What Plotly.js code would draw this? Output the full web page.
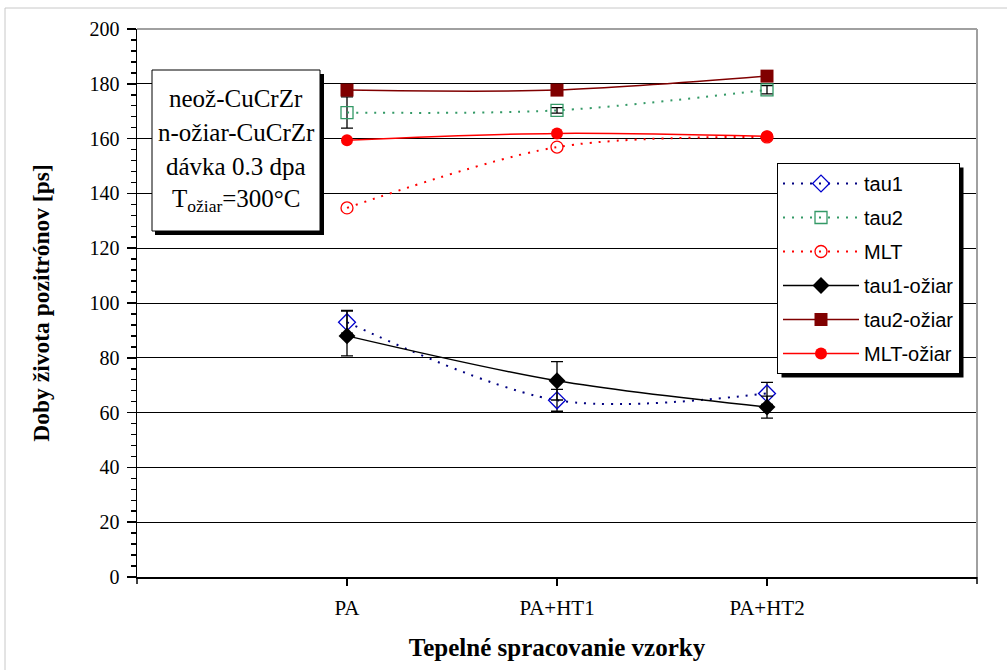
<!DOCTYPE html>
<html>
<head>
<meta charset="utf-8">
<script src="https://cdn.plot.ly/plotly-3.0.1.min.js"></script>
<style>
html,body{margin:0;padding:0;background:#fff;}
#chart{width:1007px;height:670px;}
</style>
</head>
<body>
<div id="chart"></div>
<script>
// ---- data ----
const categories = ["PA", "PA+HT1", "PA+HT2"];
const tau1 = [93.0, 64.5, 67.0];
const tau1Err = [4.0, 4.0, 4.0];
const tau2 = [169.5, 170.3, 177.8];
const tau2Err = [5.7, 1.0, 1.5];
const mlt = [134.7, 156.9, 160.6];
const tau1Oz = [88.0, 71.6, 62.0];
const tau1OzErrPlus = [9.3, 7.0, 4.0];
const tau1OzErrMinus = [7.3, 7.0, 4.0];
const tau2Oz = [177.7, 177.7, 182.8];
const mltOz = [159.4, 161.9, 160.8];
const seriesNames = ["tau1", "tau2", "MLT", "tau1-ožiar", "tau2-ožiar", "MLT-ožiar"];
const boxLines = ["neož-CuCrZr", "n-ožiar-CuCrZr", "dávka 0.3 dpa", "T<sub>ožiar</sub>=300°C"];
const yTicks = [0, 20, 40, 60, 80, 100, 120, 140, 160, 180, 200];

// ---- layout helpers ----
const W = 1007, H = 670;
const M = {l: 137, r: 30, t: 29, b: 93};
const PW = W - M.l - M.r, PH = H - M.t - M.b;
const px = x => (x - M.l) / PW;
const py = y => (M.t + PH - y) / PH;

const xIdx = categories.map((c, i) => i + 1);
const dotted = "2px,7px";

function errY(arr, arrMinus) {
  const e = {type: "data", array: arr, visible: true, color: "#000", thickness: 1.3, width: 6};
  if (arrMinus) { e.symmetric = false; e.arrayminus = arrMinus; }
  return e;
}

const traces = [
  {name: seriesNames[0], x: xIdx, y: tau1, error_y: errY(tau1Err),
   mode: "lines+markers", line: {color: "#000080", width: 2, dash: dotted, shape: "spline", smoothing: 0.9},
   marker: {symbol: "diamond-open", size: 13, color: "#0000cc", line: {width: 1.3}}},
  {name: seriesNames[1], x: xIdx, y: tau2, error_y: errY(tau2Err),
   mode: "lines+markers", line: {color: "#339966", width: 2, dash: dotted, shape: "spline", smoothing: 0.9},
   marker: {symbol: "square-open", size: 12, color: "#339966", line: {width: 1.3}}},
  {name: seriesNames[2], x: xIdx, y: mlt,
   mode: "lines+markers", line: {color: "#ff0000", width: 2, dash: dotted, shape: "spline", smoothing: 0.9},
   marker: {symbol: "circle-open", size: 12, color: "#ff0000", line: {width: 1.3}}},
  {name: seriesNames[3], x: xIdx, y: tau1Oz, error_y: errY(tau1OzErrPlus, tau1OzErrMinus),
   mode: "lines+markers", line: {color: "#000000", width: 1.5, shape: "spline", smoothing: 0.9},
   marker: {symbol: "diamond", size: 13, color: "#000000"}},
  {name: seriesNames[4], x: xIdx, y: tau2Oz,
   mode: "lines+markers", line: {color: "#800000", width: 1.5, shape: "spline", smoothing: 0.9},
   marker: {symbol: "square", size: 13, color: "#800000"}},
  {name: seriesNames[5], x: xIdx, y: mltOz,
   mode: "lines+markers", line: {color: "#ff0000", width: 1.5, shape: "spline", smoothing: 0.9},
   marker: {symbol: "circle", size: 12, color: "#ff0000"}}
];
traces.forEach((t, i) => { t.legendgroup = "g" + i; });

const serif = "Liberation Serif, Times New Roman, serif";
const sans = "Liberation Sans, Arial, sans-serif";

const shapes = [
  // outer frame
  {type: "line", xref: "paper", yref: "paper", x0: px(5), x1: px(5), y0: py(8), y1: py(670), line: {color: "#c8c8c8", width: 1}},
  {type: "line", xref: "paper", yref: "paper", x0: px(5), x1: px(1007), y0: py(8), y1: py(8), line: {color: "#c8c8c8", width: 1}},
  // plot area top/right border (gray)
  {type: "line", xref: "paper", yref: "paper", x0: 0, x1: 1, y0: 1, y1: 1, line: {color: "#a0a0a0", width: 2}, layer: "above"},
  {type: "line", xref: "paper", yref: "paper", x0: 1, x1: 1, y0: 0, y1: 1, line: {color: "#a0a0a0", width: 2}, layer: "above"},
  // x-axis end ticks
  {type: "line", xref: "paper", yref: "paper", x0: 0, x1: 0, y0: 0, y1: -7 / PH, line: {color: "#000", width: 1.5}},
  {type: "line", xref: "paper", yref: "paper", x0: 1, x1: 1, y0: 0, y1: -7 / PH, line: {color: "#000", width: 1.5}},
  // text box shadow + box
  {type: "rect", xref: "paper", yref: "paper", x0: px(155), x1: px(324), y0: py(74), y1: py(235), fillcolor: "#000", line: {width: 0}, layer: "above"},
  {type: "rect", xref: "paper", yref: "paper", x0: px(152), x1: px(320), y0: py(70), y1: py(231), fillcolor: "#fff", line: {color: "#000", width: 1}, layer: "above"},
  // legend shadow (resized after render to the legend box)
  {type: "rect", xref: "paper", yref: "paper", x0: px(781), x1: px(967), y0: py(167), y1: py(376), fillcolor: "#000", line: {width: 0}, layer: "above"}
];

const boxY = [98, 132, 166, 201];
const annotations = boxLines.map((t, i) => ({
  text: t, xref: "paper", yref: "paper", x: px(236), y: py(boxY[i]),
  xanchor: "center", yanchor: "middle", showarrow: false,
  font: {family: serif, size: 25, color: "#000"}
}));

const layout = {
  width: W, height: H,
  margin: M,
  paper_bgcolor: "#fff", plot_bgcolor: "#fff",
  showlegend: true,
  legend: {
    x: px(777), y: py(163), xanchor: "left", yanchor: "top",
    bgcolor: "#fff", bordercolor: "#000", borderwidth: 1,
    font: {family: sans, size: 20, color: "#000"},
    itemwidth: 76, tracegroupgap: 5, traceorder: "grouped"
  },
  xaxis: {
    range: [0, 4], tickmode: "array", tickvals: xIdx, ticktext: categories,
    ticks: "outside", ticklen: 7, tickcolor: "#000", tickwidth: 1.5, ticklabelstandoff: 4,
    showline: true, linecolor: "#000", linewidth: 1.5,
    showgrid: false, zeroline: false,
    tickfont: {family: serif, size: 21, color: "#000"},
    title: {text: "<b>Tepelné spracovanie vzorky</b>", font: {family: serif, size: 25, color: "#000"}, standoff: 20}
  },
  yaxis: {
    range: [0, 200], tickmode: "array", tickvals: yTicks,
    ticks: "outside", ticklen: 9, tickcolor: "#000", tickwidth: 1.5, ticklabelstandoff: 3,
    minor: {dtick: 4, tick0: 0, ticks: "outside", ticklen: 5, tickcolor: "#000", tickwidth: 1.5, showgrid: false},
    showline: true, linecolor: "#000", linewidth: 1.5,
    showgrid: true, gridcolor: "#000", gridwidth: 1, zeroline: false,
    tickfont: {family: serif, size: 20, color: "#000"},
    title: {text: "<b>Doby života pozitrónov [ps]</b>", font: {family: serif, size: 23.5, color: "#000"}, standoff: 33}
  },
  shapes: shapes,
  annotations: annotations
};

Plotly.newPlot("chart", traces, layout, {displayModeBar: false, staticPlot: true}).then(gd => {
  const bg = gd.querySelector(".legend .bg");
  if (!bg) return;
  const r = bg.getBoundingClientRect();
  const c = gd.getBoundingClientRect();
  const x0 = r.left - c.left, y0 = r.top - c.top;
  const x1 = x0 + r.width, y1 = y0 + r.height;
  const i = shapes.length - 1;
  const upd = {};
  upd["shapes[" + i + "].x0"] = px(x0 + 4);
  upd["shapes[" + i + "].x1"] = px(x1 + 4);
  upd["shapes[" + i + "].y0"] = py(y0 + 4);
  upd["shapes[" + i + "].y1"] = py(y1 + 4);
  return Plotly.relayout(gd, upd);
});
</script>
</body>
</html>
